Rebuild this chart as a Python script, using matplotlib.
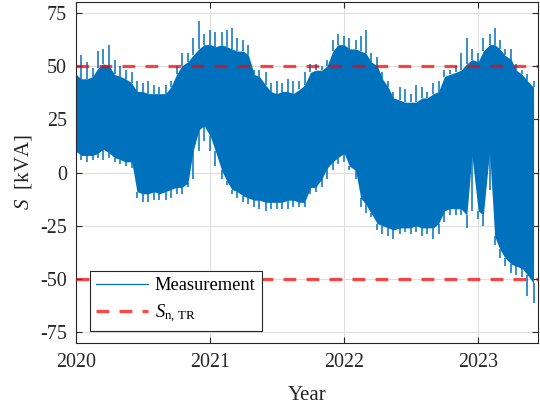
import matplotlib
matplotlib.use("Agg")
import matplotlib.pyplot as plt
import numpy as np
import pandas as pd

dates = pd.date_range("2020-01-01", periods=83, freq="SMS")
top_dense = [46, 44, 44, 45, 49, 51, 50, 46, 45, 44, 42, 38, 38, 37, 37, 37, 37, 40, 46, 50,
             52, 55, 58, 60, 60, 59, 60, 59, 58, 57, 57, 55, 46, 45, 41, 38, 37, 38, 38, 37,
             39, 41, 47, 48, 48, 50, 57, 60, 60, 58, 58, 57, 56, 52, 50, 44, 40, 35, 34, 33,
             33, 33, 35, 35, 37, 38, 45, 46, 47, 48, 51, 53, 52, 57, 60, 60, 58, 55, 53, 48,
             46, 43, 40]
top_peak = [55, 55, 52, 49, 57, 58, 60, 53, 50, 48, 47, 43, 42, 43, 41, 40, 41, 43, 50, 56,
            56, 63, 71, 65, 67, 66, 66, 67, 68, 63, 62, 60, 48, 48, 47, 42, 43, 42, 44, 43,
            43, 47, 51, 51, 50, 53, 62, 65, 64, 63, 62, 64, 67, 56, 54, 47, 43, 38, 40, 39,
            37, 41, 40, 38, 42, 43, 48, 48, 50, 56, 63, 58, 56, 63, 65, 68, 62, 58, 58, 51,
            48, 46, 43]
bot_dense = [10, 8, 8, 8, 9, 11, 9, 7, 6, 5, 5, -9, -10, -10, -9, -10, -9, -8, -7, -7,
             -5, 10, 20, 22, 17, 10, 1, -4, -8, -9, -11, -12, -13, -13, -14, -14, -14, -14, -13, -13,
             -14, -14, -7, -7, -3, 2, 5, 7, 9, 3, 1, -12, -15, -19, -24, -25, -26, -27, -26, -26,
             -26, -25, -26, -26, -26, -24, -18, -17, -17, -17, -20, 8, -18, -20, 10, -30, -36, -40, -43, -44,
             -45, -48, -52]
bot_peak = [7, 6, 5, 6, 7, 6, 7, 5, 4, 3, 2, -12, -14, -14, -13, -13, -13, -12, -10, -10,
            -7, -3, 10, 15, 10, 3, -3, -6, -10, -12, -14, -15, -16, -17, -18, -17, -17, -17, -17, -16,
            -16, -16, -10, -9, -7, -3, 1, 4, 5, 1, -3, -16, -19, -21, -27, -29, -30, -31, -29, -28,
            -29, -28, -30, -29, -31, -29, -23, -20, -20, -20, -26, -18, -22, -25, -8, -34, -40, -44, -47, -48,
            -49, -58, -61]
s_rated = 50
yticks = [-75, -50, -25, 0, 25, 50, 75]
xtick_years = [2020, 2021, 2022, 2023]

plt.rcParams["font.family"] = ["Liberation Serif", "DejaVu Serif"]
plt.rcParams["mathtext.fontset"] = "custom"
plt.rcParams["mathtext.rm"] = "Liberation Serif"
plt.rcParams["mathtext.it"] = "Liberation Serif:italic"
plt.rcParams["axes.unicode_minus"] = False

fig = plt.figure(figsize=(5.4, 4.08), dpi=100)
ax = fig.add_axes([76 / 540, 1 - 343 / 408, (538 - 76) / 540, (343 - 2) / 408])

blue = "#0072BD"
ax.fill_between(dates, bot_dense, top_dense, color=blue, lw=0, zorder=2)
ax.vlines(dates, top_dense, top_peak, color=blue, lw=1.1, zorder=2)
ax.vlines(dates, bot_peak, bot_dense, color=blue, lw=1.1, zorder=2)
meas, = ax.plot([], [], color=blue, lw=0.9, label="Measurement")

red_kw = dict(color="#FF0000", alpha=0.72, lw=2.3, dashes=(4, 3.2), zorder=3)
ln, = ax.plot([0, 1], [s_rated, s_rated], transform=ax.get_yaxis_transform(), **red_kw,
              label=r"$S_{\mathrm{n,\,TR}}$")
ax.plot([0, 1], [-s_rated, -s_rated], transform=ax.get_yaxis_transform(), **red_kw)

ax.set_xlim(pd.Timestamp("2020-01-01"), pd.Timestamp("2023-06-13"))
ax.set_ylim(-80, 80)
ax.set_yticks(yticks)
ax.set_yticklabels([str(v) for v in yticks])
ax.set_xticks([pd.Timestamp(f"{y}-01-01") for y in xtick_years])
ax.set_xticklabels([str(y) for y in xtick_years])

ax.grid(True, color="#DFDFDF", lw=0.8, zorder=0)
ax.set_axisbelow(True)
ax.tick_params(direction="in", top=True, right=True, length=4, width=0.8,
               colors="#262626", labelsize=14.4)
ax.tick_params(axis="x", pad=7)
ax.tick_params(axis="y", pad=6.5)
for s in ax.spines.values():
    s.set_color("#262626")
    s.set_linewidth(0.8)

ax.set_xlabel("Year", fontsize=15, color="#262626")
ax.set_ylabel(r"$S$  [kVA]", fontsize=15, color="#262626")
ax.xaxis.set_label_coords(0.5, -(395 - 343) / 341, transform=ax.transAxes)
ax.xaxis.label.set_va("center")
ax.yaxis.set_label_coords(-(76 - 23) / 462, 0.5, transform=ax.transAxes)
ax.yaxis.label.set_va("center")

leg = ax.legend(handles=[meas, ln], loc="lower left", bbox_to_anchor=(14 / 462, 12 / 341),
                fontsize=13.3, frameon=True, fancybox=False, framealpha=1,
                edgecolor="#262626", handlelength=2.8, borderpad=0.35, labelspacing=0.45,
                handletextpad=0.35, borderaxespad=0)
leg.get_frame().set_linewidth(0.8)

fig.savefig("out.png", dpi=100)
